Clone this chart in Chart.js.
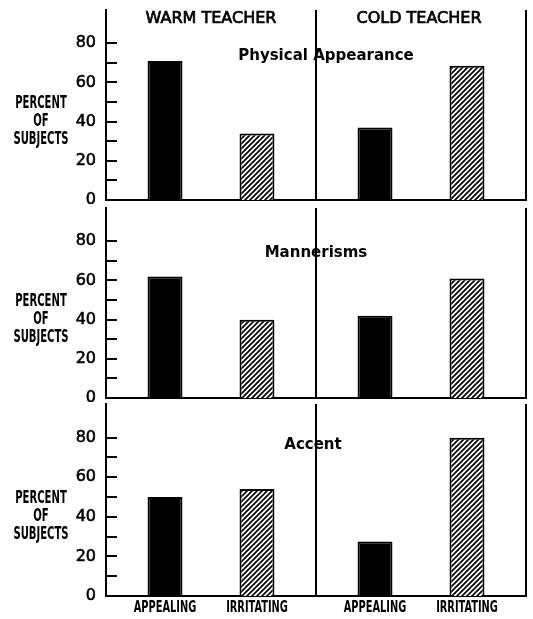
<!DOCTYPE html>
<html>
<head>
<meta charset="utf-8">
<script src="https://cdn.jsdelivr.net/npm/chart.js@4.4.0/dist/chart.umd.min.js"></script>
<style>
  html, body { margin: 0; padding: 0; background: #fff; }
  #wrap { position: relative; width: 533px; height: 619px; overflow: hidden; }
  .panel { position: absolute; left: 0; width: 533px; }
</style>
</head>
<body>
<div id="wrap">
  <div class="panel" style="top:0;height:204px"><canvas id="c1"></canvas></div>
  <div class="panel" style="top:200px;height:202px"><canvas id="c2"></canvas></div>
  <div class="panel" style="top:398px;height:221px"><canvas id="c3"></canvas></div>
</div>
<script>
// data (percent of subjects)
const teachers = ['WARM TEACHER', 'COLD TEACHER'];
const seriesNames = ['APPEALING', 'IRRITATING'];
const yTitle = ['PERCENT', 'OF', 'SUBJECTS'];
const yTicks = [0, 10, 20, 30, 40, 50, 60, 70, 80];

const physicalAppealing = [71, 37];
const physicalIrritating = [34, 68.5];
const mannerAppealing = [62, 42];
const mannerIrritating = [40, 61];
const accentAppealing = [50, 27.5];
const accentIrritating = [54, 80];

const $ = id => document.getElementById(id);

// diagonal hatch for the "irritating" bars
const hatch = (() => {
    const c = document.createElement('canvas'); c.width = c.height = 5;
    const g = c.getContext('2d');
    g.fillStyle = '#fff'; g.fillRect(0, 0, 5, 5);
    g.strokeStyle = '#000'; g.lineWidth = 1.7;
    g.beginPath();
    g.moveTo(-1, 6); g.lineTo(6, -1);
    g.moveTo(-1, 1); g.lineTo(1, -1);
    g.moveTo(4, 6); g.lineTo(6, 4);
    g.stroke();
    return g.createPattern(c, 'repeat');
})();

const narrow = 'bold 13px "Liberation Sans Narrow", "DejaVu Sans Condensed", sans-serif';

// draws text squeezed like the condensed lettering of the figure
const squeezed = (ctx, t, x, y, sx, sy) => {
    ctx.save(); ctx.translate(x, y); ctx.scale(sx, sy); ctx.fillText(t, 0, 0); ctx.restore();
};

const decor = {
    id: 'decor',
    afterDraw(chart, args, o) {
        const { ctx, chartArea: a, scales: { x, y } } = chart;
        ctx.save();
        // tick marks point inward
        ctx.strokeStyle = '#000'; ctx.lineWidth = 2;
        yTicks.slice(1).forEach(v => {
            const py = Math.round(y.getPixelForValue(v));
            ctx.beginPath(); ctx.moveTo(a.left, py); ctx.lineTo(a.left + 11, py); ctx.stroke();
        });
        ctx.fillStyle = '#000'; ctx.textAlign = 'center'; ctx.textBaseline = 'middle';
        // y title, three stacked lines
        ctx.font = narrow;
        const cy = y.getPixelForValue(40);
        yTitle.forEach((t, i) => squeezed(ctx, t, 41, cy + (i - 1) * 18, 0.86, 1.3));
        // panel title
        ctx.font = 'bold 15px "DejaVu Sans", sans-serif';
        ctx.fillText(o.title, (a.left + a.right) / 2 + o.dx, y.getPixelForValue(o.level));
        if (o.header) {
            ctx.font = '16px "DejaVu Sans", sans-serif';
            ctx.strokeStyle = '#000'; ctx.lineWidth = 0.7;
            teachers.forEach((t, i) => {
                const px = x.getPixelForValue(i) + (i ? -2 : 0);
                ctx.fillText(t, px, a.top + 9); ctx.strokeText(t, px, a.top + 9);
            });
        }
        if (o.barLabels) {
            ctx.font = narrow;
            chart.data.datasets.forEach((ds, di) => {
                chart.getDatasetMeta(di).data.forEach(bar => squeezed(ctx, seriesNames[di], bar.x, a.bottom + 12, 0.84, 1.15));
            });
        }
        ctx.restore();
    }
};

function renderPanel(id, appealing, irritating, opts, pad) {
    return new Chart($(id), {
        type: 'bar',
        data: {
            labels: teachers,
            datasets: [
                { label: seriesNames[0], data: appealing, backgroundColor: '#000', borderColor: '#000', borderWidth: 2 },
                { label: seriesNames[1], data: irritating, backgroundColor: hatch, borderColor: '#000', borderWidth: 2 }
            ]
        },
        options: {
            responsive: true, maintainAspectRatio: false, animation: false,
            categoryPercentage: 0.876, barPercentage: 0.38,
            layout: { padding: { left: 0, right: 7, top: pad[0], bottom: pad[1] } },
            scales: {
                x: {
                    offset: true,
                    grid: { offset: true, color: '#000', lineWidth: 2, drawTicks: false },
                    border: { display: true, color: '#000', width: 2 },
                    ticks: { display: false },
                    afterFit: s => { s.height = 0; s.paddingLeft = s.paddingRight = 0; }
                },
                y: {
                    min: 0, max: 97,
                    grid: { display: false, drawTicks: false },
                    border: { display: true, color: '#000', width: 2 },
                    afterBuildTicks: s => { s.ticks = yTicks.map(v => ({ value: v })); },
                    afterFit: s => { s.width = 106; s.paddingTop = s.paddingBottom = 0; },
                    ticks: {
                        color: '#000', padding: 10,
                        textStrokeColor: '#000', textStrokeWidth: 0.6,
                        font: { family: '"DejaVu Sans", sans-serif', size: 16 },
                        callback: v => v % 20 === 0 ? v : ''
                    }
                }
            },
            plugins: { legend: { display: false }, tooltip: { enabled: false }, decor: opts }
        },
        plugins: [decor]
    });
}

renderPanel('c1', physicalAppealing, physicalIrritating, { title: 'Physical Appearance', level: 73.5, dx: 10, header: true }, [10, 4]);
renderPanel('c2', mannerAppealing, mannerIrritating, { title: 'Mannerisms', level: 74, dx: 0 }, [8, 4]);
renderPanel('c3', accentAppealing, accentIrritating, { title: 'Accent', level: 76, dx: -3, barLabels: true }, [6, 23]);
</script>
</body>
</html>
